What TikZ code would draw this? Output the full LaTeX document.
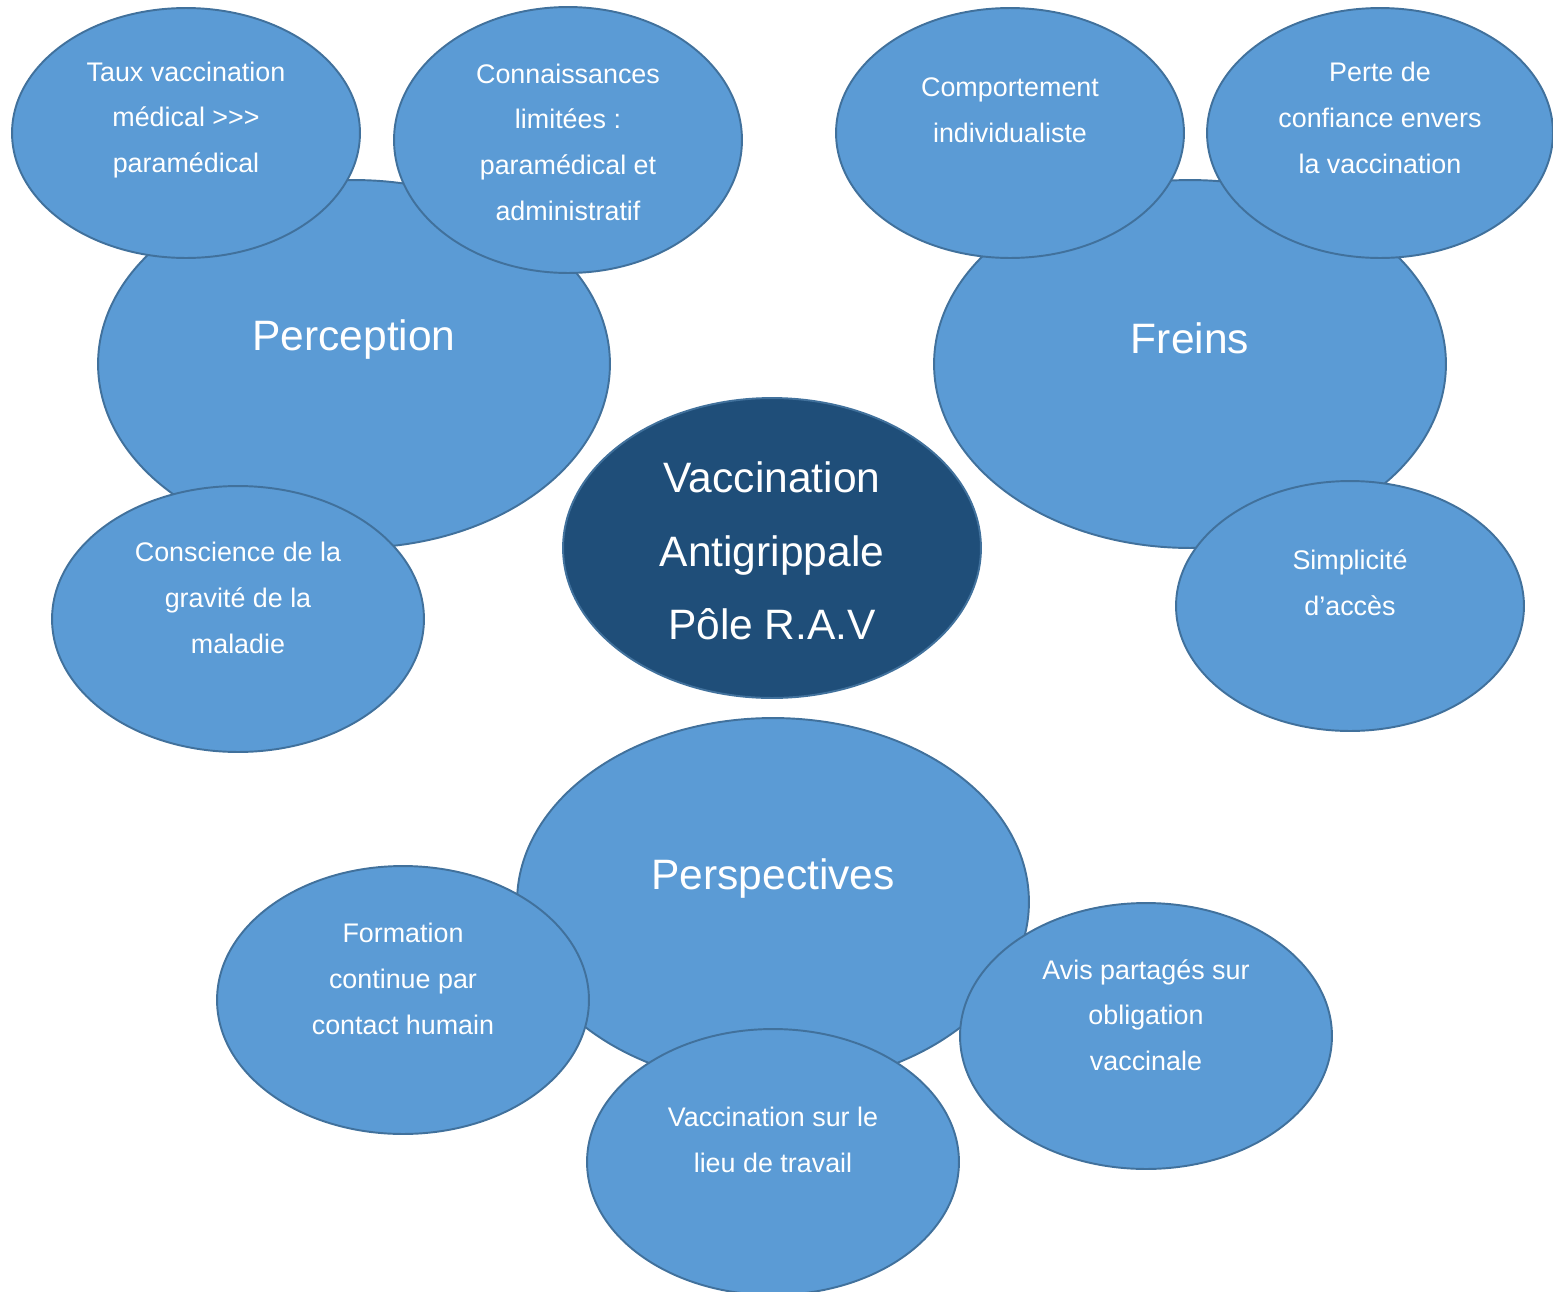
\documentclass[tikz,border=0pt]{standalone}
\usepackage{fontspec}
\setmainfont{Liberation Sans}
\usetikzlibrary{shapes.geometric}
\definecolor{bubfill}{HTML}{5B9BD5}
\definecolor{bubline}{HTML}{41719C}
\definecolor{corefill}{HTML}{1F4E79}
\tikzset{
  bub/.style={ellipse, draw=bubline, fill=bubfill, line width=1.1pt, inner sep=0pt},
  core/.style={ellipse, draw=bubline, fill=corefill, line width=1.1pt, inner sep=0pt},
  small/.style={text=white, align=center, font=\fontsize{15.3}{26}\selectfont},
  big/.style={text=white, align=center, font=\fontsize{24.2}{42}\selectfont},
}
\begin{document}
\begin{tikzpicture}[x=0.02cm, y=-0.02cm]
\useasboundingbox (0,0) rectangle (1553,1292);
% Perception group
\node[bub, minimum width=10.24cm, minimum height=7.36cm] (perc) at (354,364) {};
\node[bub, minimum width=6.96cm, minimum height=5.0cm] (taux) at (186,133) {};
\node[bub, minimum width=6.96cm, minimum height=5.32cm] (conn) at (568,140) {};
\node[bub, minimum width=7.44cm, minimum height=5.32cm] (consc) at (238,619) {};
% Freins group
\node[bub, minimum width=10.24cm, minimum height=7.36cm] (freins) at (1190,364) {};
\node[bub, minimum width=6.96cm, minimum height=5.0cm] (comp) at (1010,133) {};
\node[bub, minimum width=6.92cm, minimum height=5.0cm] (perte) at (1380,133) {};
\node[bub, minimum width=6.96cm, minimum height=5.0cm] (simpl) at (1350,606) {};
% Perspectives group
\node[bub, minimum width=10.24cm, minimum height=7.36cm] (persp) at (773,902) {};
\node[bub, minimum width=7.44cm, minimum height=5.36cm] (form) at (403,1000) {};
\node[bub, minimum width=7.44cm, minimum height=5.32cm] (lieu) at (773,1162) {};
\node[bub, minimum width=7.44cm, minimum height=5.32cm] (avis) at (1146,1036) {};
% Centre
\node[core, minimum width=8.36cm, minimum height=6.0cm] (centre) at (772,548) {};
% Texts
\node[big] (tperc) at (354,340) {Perception};
\node[small] (ttaux) at (186,120) {Taux vaccination\\médical >\kern0pt>\kern0pt>\\paramédical};
\node[small] (tconn) at (568,142) {Connaissances\\limitées :\\paramédical et\\administratif};
\node[small] (tconsc) at (238,598) {Conscience de la\\gravité de la\\maladie};
\node[big] (tfreins) at (1190,338) {Freins};
\node[small] (tcomp) at (1010,110) {Comportement\\individualiste};
\node[small] (tperte) at (1380,118) {Perte de\\confiance envers\\la vaccination};
\node[small] (tsimpl) at (1350,583) {Simplicité\\d’accès};
\node[big] (tpersp) at (773,878) {Perspectives};
\node[small] (tform) at (403,979) {Formation\\continue par\\contact humain};
\node[small] (tlieu) at (773,1140) {Vaccination sur le\\lieu de travail};
\node[small] (tavis) at (1146,1015) {Avis partagés sur\\obligation\\vaccinale};
\node[big] (tcentre) at (772,551) {Vaccination\\Antigrippale\\Pôle R.A.V};
\end{tikzpicture}
\end{document}
